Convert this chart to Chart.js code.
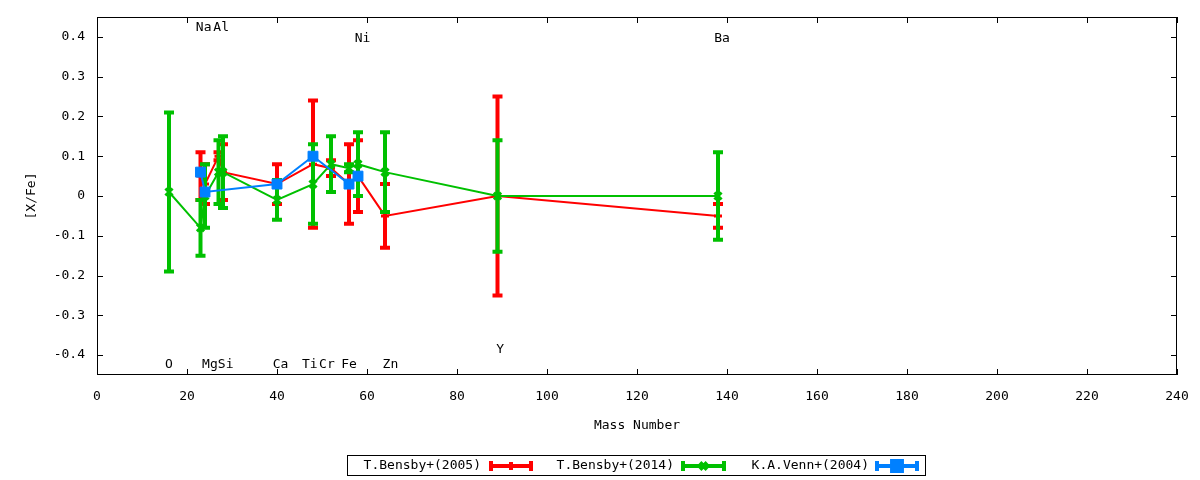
<!DOCTYPE html>
<html>
<head>
<meta charset="utf-8">
<script src="https://cdn.jsdelivr.net/npm/chart.js@4/dist/chart.umd.min.js"></script>
<style>
  html, body { margin: 0; padding: 0; background: #fff; }
  #wrap { width: 1200px; height: 480px; }
</style>
</head>
<body>
<div id="wrap"><canvas id="chart" width="1200" height="480"></canvas></div>
<script>
// T.Bensby+(2005)
const mass2005 = [23, 24, 27, 28, 40, 48, 52, 56, 58, 64, 89, 138];
const xfe2005 = [0.05, 0.03, 0.10, 0.06, 0.03, 0.08, 0.07, 0.03, 0.05, -0.05, 0.00, -0.05];
const err2005 = [0.06, 0.05, 0.01, 0.07, 0.05, 0.16, 0.02, 0.10, 0.09, 0.08, 0.25, 0.03];

// T.Bensby+(2014)
const mass2014 = [16, 23, 24, 27, 28, 40, 48, 52, 56, 58, 64, 89, 138];
const xfe2014 = [0.01, -0.08, 0.00, 0.06, 0.06, -0.01, 0.03, 0.08, 0.07, 0.08, 0.06, 0.00, 0.00];
const err2014 = [0.20, 0.07, 0.08, 0.08, 0.09, 0.05, 0.10, 0.07, 0.01, 0.08, 0.10, 0.14, 0.11];

// K.A.Venn+(2004)
const mass2004 = [23, 24, 40, 48, 56, 58];
const xfe2004 = [0.06, 0.01, 0.03, 0.10, 0.03, 0.05];
const err2004 = [0, 0, 0, 0, 0, 0];

// element names written inside the plot
const elemNames = ['O', 'Na', 'Mg', 'Al', 'Si', 'Ca', 'Ti', 'Cr', 'Fe', 'Ni', 'Zn', 'Y', 'Ba'];
const elemX = [16, 23.7, 25.1, 27.6, 28.6, 40.8, 47.3, 51.1, 56, 59, 65.2, 89.6, 138.9];
const elemY = [-0.423, 0.424, -0.423, 0.424, -0.423, -0.423, -0.423, -0.423, -0.423, 0.395, -0.423, -0.385, 0.395];

const xTicks = [0, 20, 40, 60, 80, 100, 120, 140, 160, 180, 200, 220, 240];
const yTicks = [-0.4, -0.3, -0.2, -0.1, 0, 0.1, 0.2, 0.3, 0.4];

const FONT = '"DejaVu Sans Mono", monospace';

function toPoints(xs, ys) {
  return xs.map((x, i) => ({ x: x, y: ys[i] }));
}

// legend entries: text right edge, sample start/end
const legendItems = [
  { text: 'T.Bensby+(2005)', textEnd: 481, x1: 490, x2: 532 },
  { text: 'T.Bensby+(2014)', textEnd: 674, x1: 682, x2: 725 },
  { text: 'K.A.Venn+(2004)', textEnd: 869, x1: 876, x2: 918 }
];

function drawMarker(ctx, ds, x, y) {
  Chart.helpers.drawPoint(ctx, {
    pointStyle: ds.pointStyle,
    radius: ds.pointRadius,
    borderWidth: ds.pointBorderWidth,
    rotation: 0
  }, x, y);
}

const gnuplotDecor = {
  id: 'gnuplotDecor',
  afterDatasetDraw(chart, args) {
    const ds = chart.data.datasets[args.index];
    const xs = chart.scales.x, ys = chart.scales.y;
    const ctx = chart.ctx;
    ctx.save();
    ctx.strokeStyle = ds.borderColor;
    ctx.lineWidth = 4;
    ds.data.forEach((p, i) => {
      const e = ds.errors[i];
      const px = xs.getPixelForValue(p.x);
      const top = ys.getPixelForValue(p.y + e);
      const bot = ys.getPixelForValue(p.y - e);
      ctx.beginPath();
      ctx.moveTo(px, top);
      ctx.lineTo(px, bot);
      ctx.stroke();
      ctx.beginPath();
      ctx.moveTo(px - 5, top); ctx.lineTo(px + 5, top);
      ctx.moveTo(px - 5, bot); ctx.lineTo(px + 5, bot);
      ctx.stroke();
    });
    ctx.restore();
  },
  afterDraw(chart) {
    const ctx = chart.ctx;
    const a = chart.chartArea;
    const xs = chart.scales.x, ys = chart.scales.y;
    ctx.save();
    // frame
    ctx.strokeStyle = '#000';
    ctx.lineWidth = 1;
    ctx.strokeRect(a.left + 0.5, a.top + 0.5, a.right - a.left - 1, a.bottom - a.top - 1);
    // inward ticks on all sides
    ctx.beginPath();
    xTicks.forEach(v => {
      const px = Math.round(xs.getPixelForValue(v)) + 0.5;
      ctx.moveTo(px, a.bottom); ctx.lineTo(px, a.bottom - 6);
      ctx.moveTo(px, a.top); ctx.lineTo(px, a.top + 6);
    });
    yTicks.forEach(v => {
      const py = Math.round(ys.getPixelForValue(v)) + 0.5;
      ctx.moveTo(a.left, py); ctx.lineTo(a.left + 6, py);
      ctx.moveTo(a.right, py); ctx.lineTo(a.right - 6, py);
    });
    ctx.stroke();

    // element labels
    ctx.fillStyle = '#000';
    ctx.font = '13px ' + FONT;
    ctx.textAlign = 'center';
    ctx.textBaseline = 'middle';
    elemNames.forEach((n, i) => {
      ctx.fillText(n, xs.getPixelForValue(elemX[i]), ys.getPixelForValue(elemY[i]));
    });

    // axis titles
    ctx.fillText('Mass Number', (a.left + a.right) / 2, 426);
    ctx.save();
    ctx.translate(32, (a.top + a.bottom) / 2);
    ctx.rotate(-Math.PI / 2);
    ctx.fillText('[X/Fe]', 0, 0);
    ctx.restore();

    // legend
    ctx.strokeStyle = '#000';
    ctx.lineWidth = 1;
    ctx.strokeRect(347.5, 455.5, 578, 20);
    const ly = 466;
    legendItems.forEach((item, i) => {
      const ds = chart.data.datasets[i];
      ctx.fillStyle = '#000';
      ctx.textAlign = 'right';
      ctx.fillText(item.text, item.textEnd, ly);
      ctx.strokeStyle = ds.borderColor;
      ctx.lineWidth = 4;
      ctx.beginPath();
      ctx.moveTo(item.x1, ly); ctx.lineTo(item.x2, ly);
      ctx.moveTo(item.x1 + 1, ly - 5); ctx.lineTo(item.x1 + 1, ly + 5);
      ctx.moveTo(item.x2 - 1, ly - 5); ctx.lineTo(item.x2 - 1, ly + 5);
      ctx.stroke();
      ctx.fillStyle = ds.pointBackgroundColor;
      ctx.strokeStyle = ds.borderColor;
      drawMarker(ctx, ds, (item.x1 + item.x2) / 2, ly);
    });
    ctx.restore();
  }
};

const ctx = document.getElementById('chart').getContext('2d');
new Chart(ctx, {
  type: 'scatter',
  data: {
    datasets: [
      {
        label: 'T.Bensby+(2005)',
        data: toPoints(mass2005, xfe2005),
        errors: err2005,
        showLine: true,
        borderColor: '#ff0000',
        backgroundColor: '#ff0000',
        pointBackgroundColor: '#ff0000',
        pointBorderColor: '#ff0000',
        borderWidth: 2,
        pointStyle: 'cross',
        pointRadius: 4,
        pointBorderWidth: 3,
        order: 3
      },
      {
        label: 'T.Bensby+(2014)',
        data: toPoints(mass2014, xfe2014),
        errors: err2014,
        showLine: true,
        borderColor: '#00c000',
        backgroundColor: '#00c000',
        pointBackgroundColor: '#00c000',
        pointBorderColor: '#00c000',
        borderWidth: 2,
        pointStyle: 'crossRot',
        pointRadius: 5,
        pointBorderWidth: 3,
        order: 2
      },
      {
        label: 'K.A.Venn+(2004)',
        data: toPoints(mass2004, xfe2004),
        errors: err2004,
        showLine: true,
        borderColor: '#0080ff',
        backgroundColor: '#0080ff',
        pointBackgroundColor: '#0080ff',
        pointBorderColor: '#0080ff',
        borderWidth: 2,
        pointStyle: 'rect',
        pointRadius: 7,
        pointBorderWidth: 1,
        order: 1
      }
    ]
  },
  options: {
    responsive: false,
    animation: false,
    devicePixelRatio: 1,
    layout: {
      padding: { top: 17, right: 23, left: 0, bottom: 0 }
    },
    plugins: {
      legend: { display: false },
      tooltip: { enabled: false }
    },
    scales: {
      x: {
        type: 'linear',
        min: 0,
        max: 240,
        afterBuildTicks: (axis) => {
          axis.ticks = xTicks.map(v => ({ value: v }));
        },
        afterFit: (scale) => { scale.height = 105; },
        ticks: {
          color: '#000',
          font: { family: FONT, size: 13 },
          padding: 6,
          maxRotation: 0,
          autoSkip: false
        },
        grid: { display: false },
        border: { display: false }
      },
      y: {
        type: 'linear',
        min: -0.45,
        max: 0.45,
        afterBuildTicks: (axis) => {
          axis.ticks = yTicks.map(v => ({ value: v }));
        },
        afterFit: (scale) => { scale.width = 97; },
        ticks: {
          color: '#000',
          font: { family: FONT, size: 13 },
          padding: 4,
          callback: (value) => String(Math.round(value * 10) / 10)
        },
        grid: { display: false },
        border: { display: false }
      }
    }
  },
  plugins: [gnuplotDecor]
});
</script>
</body>
</html>
